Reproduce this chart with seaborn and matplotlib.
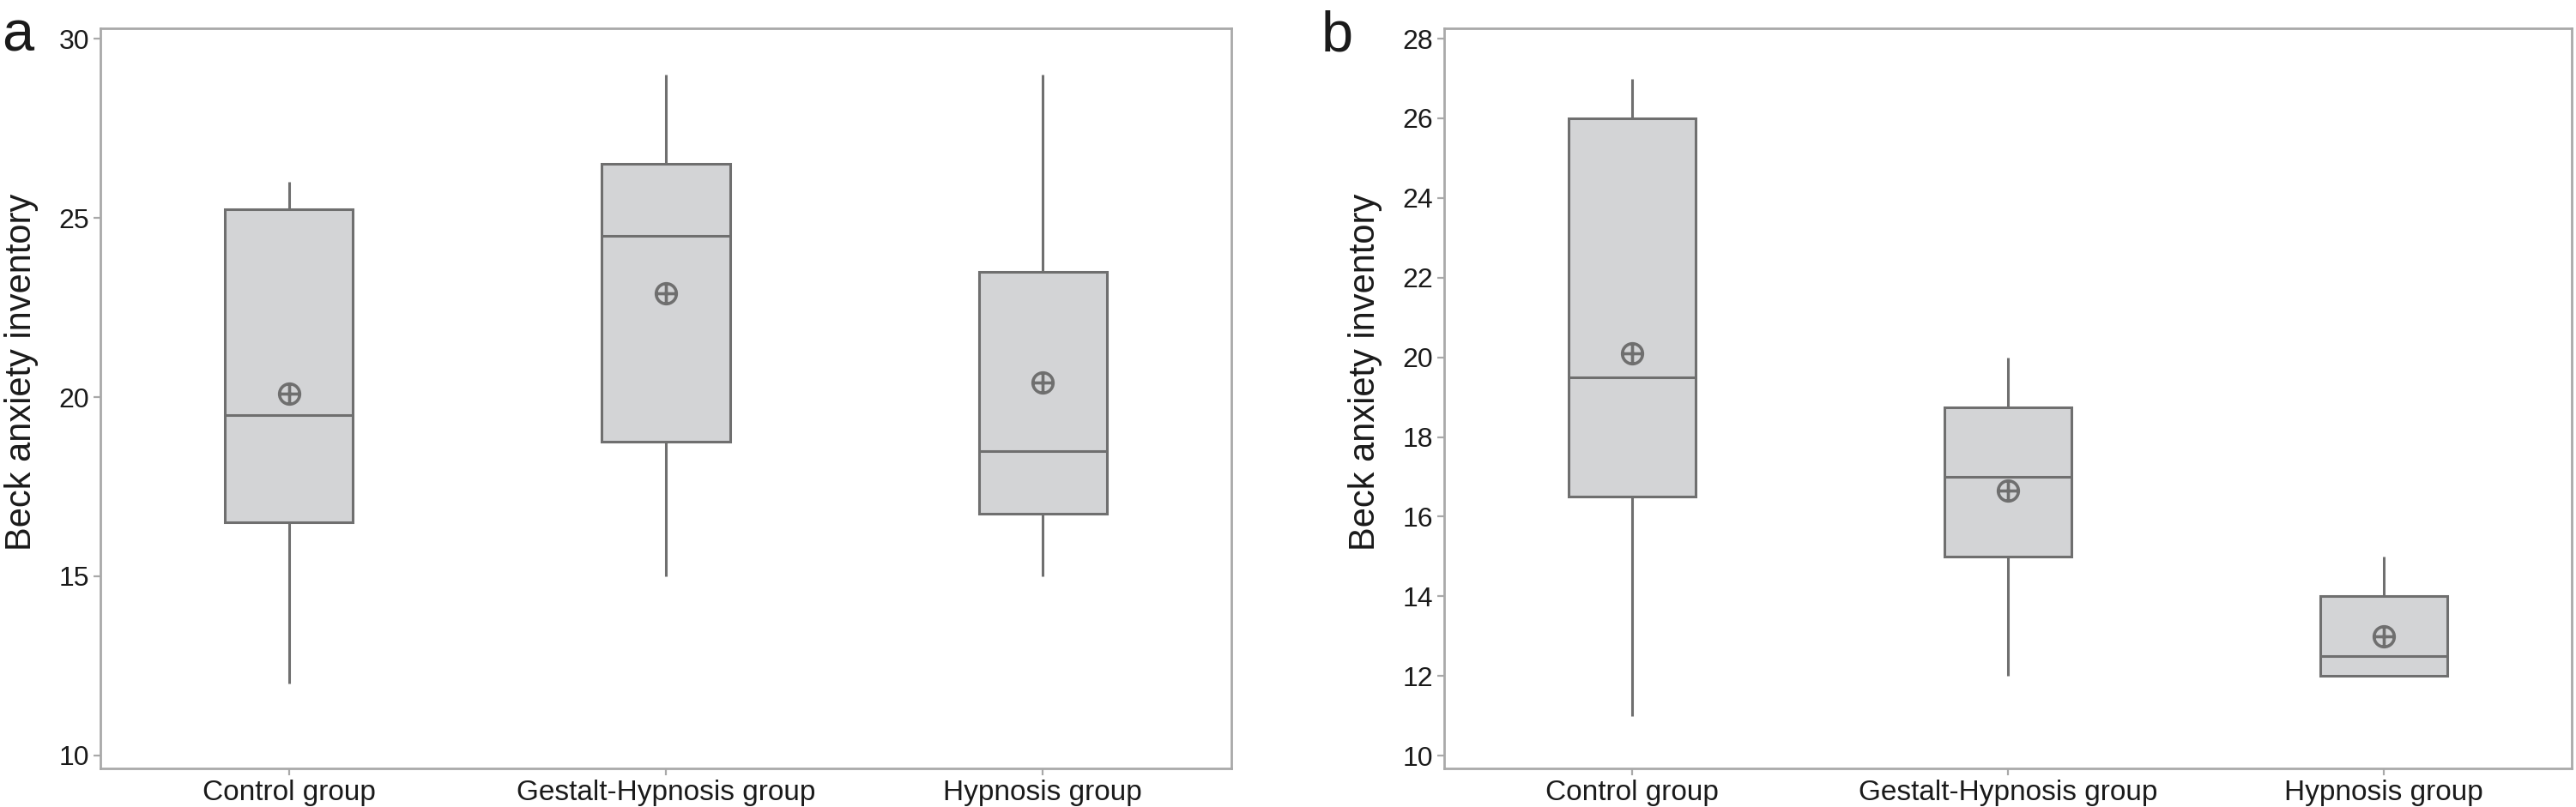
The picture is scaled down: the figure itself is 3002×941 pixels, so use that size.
import numpy as np
import pandas as pd
import matplotlib
matplotlib.use("Agg")
import matplotlib.pyplot as plt
from matplotlib.path import Path
import seaborn as sns

# ---------------- data ----------------
groups = ["Control group", "Gestalt-Hypnosis group", "Hypnosis group"]

# panel a : five-number summaries + means
a_min = [12, 15, 15]
a_q1 = [16.5, 18.75, 16.75]
a_median = [19.5, 24.5, 18.5]
a_q3 = [25.25, 26.5, 23.5]
a_max = [26, 29, 29]
a_mean = [20.1, 22.9, 20.4]
a_yticks = [10, 15, 20, 25, 30]

# panel b : five-number summaries + means
b_min = [11, 12, 12]
b_q1 = [16.5, 15, 12]
b_median = [19.5, 17, 12.5]
b_q3 = [26, 18.75, 14]
b_max = [27, 20, 15]
b_mean = [20.1, 16.65, 13.0]
b_yticks = [10, 12, 14, 16, 18, 20, 22, 24, 26, 28]

ylabel = "Beck anxiety inventory"
panel_letters = ["a", "b"]


def summary_frame(mins, q1s, meds, q3s, maxs):
    # five points per group reproduce exactly min/Q1/median/Q3/max
    rows = []
    for g, lo, q1, md, q3, hi in zip(groups, mins, q1s, meds, q3s, maxs):
        for v in (lo, q1, md, q3, hi):
            rows.append({"group": g, "value": v})
    return pd.DataFrame(rows)


df_a = summary_frame(a_min, a_q1, a_median, a_q3, a_max)
df_b = summary_frame(b_min, b_q1, b_median, b_q3, b_max)

# ---------------- style ----------------
sns.set_theme(style="white")
plt.rcParams["font.family"] = ["Liberation Sans", "DejaVu Sans"]

FILL = "#d3d4d6"
EDGE = "#6f6f6f"
SPINE = "#a9a9a9"
TEXT = "#1a1a1a"

# circle-with-cross marker for the mean
circle = Path.unit_circle()
hline = Path([[-1, 0], [1, 0]], [Path.MOVETO, Path.LINETO])
vline = Path([[0, -1], [0, 1]], [Path.MOVETO, Path.LINETO])
mean_marker = Path.make_compound_path(circle, hline, vline)

fig = plt.figure(figsize=(30.02, 9.41), dpi=100)
ax_a = fig.add_axes([117 / 3002, 45 / 941, 1318 / 3002, 863 / 941])
ax_b = fig.add_axes([1683 / 3002, 45 / 941, 1314 / 3002, 863 / 941])

panels = [
    (ax_a, df_a, a_mean, a_yticks, (9.64, 30.29)),
    (ax_b, df_b, b_mean, b_yticks, (9.68, 28.26)),
]

for ax, df, means, yticks, ylim in panels:
    sns.boxplot(
        data=df, x="group", y="value", order=groups, ax=ax,
        color=FILL, linecolor=EDGE, linewidth=2.2, saturation=1,
        width=0.34, whis=(0, 100), showcaps=False, fliersize=0,
    )
    sns.pointplot(
        x=groups, y=means, order=groups, ax=ax, errorbar=None,
        color=EDGE, marker=mean_marker, linestyle="none",
        markersize=17, markeredgewidth=2.6, markerfacecolor="none",
    )
    for ln in ax.lines[-1:]:
        ln.set_markerfacecolor("none")
        ln.set_markeredgecolor(EDGE)

    ax.set_xlim(-0.5, 2.5)
    ax.set_ylim(*ylim)
    ax.set_yticks(yticks)
    ax.set_yticklabels([str(t) for t in yticks])
    ax.set_xlabel("")
    ax.set_ylabel(ylabel, fontsize=30, color=TEXT)
    ax.yaxis.set_label_coords(-0.0546, 0.535)

    for sp in ax.spines.values():
        sp.set_visible(True)
        sp.set_color(SPINE)
        sp.set_linewidth(2.0)

    ax.tick_params(axis="both", which="major", direction="out", length=6,
                   width=1.6, color=SPINE, labelcolor=TEXT, pad=3,
                   left=True, bottom=True)
    ax.tick_params(axis="y", labelsize=23)
    ax.tick_params(axis="x", labelsize=24)

fig.text(2 / 3002, 1 - 60 / 941, panel_letters[0], fontsize=48,
         color=TEXT, ha="left", va="baseline")
fig.text(1540 / 3002, 1 - 60 / 941, panel_letters[1], fontsize=48,
         color=TEXT, ha="left", va="baseline")

fig.savefig("out.png", dpi=100, facecolor="white")
